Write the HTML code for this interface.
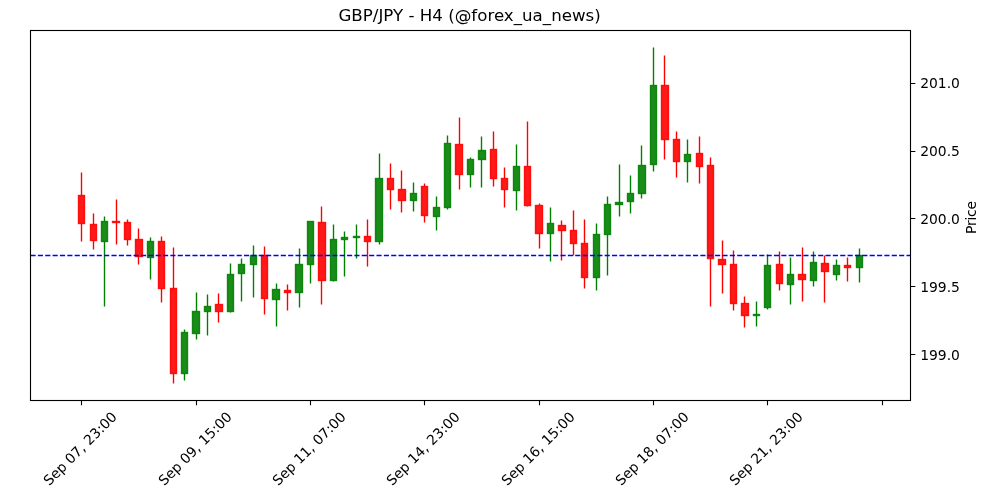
<!DOCTYPE html>
<html><head><meta charset="utf-8"><title>GBP/JPY - H4</title>
<style>
html,body{margin:0;padding:0;background:#fff;}
body{width:1000px;height:500px;overflow:hidden;}
svg{display:block;will-change:transform;}
text{font-family:"DejaVu Sans","Liberation Sans",sans-serif;fill:#000;}
.t10{font-size:13.889px;}
.t12{font-size:16.667px;}
.wr{stroke:#ff0000;stroke-width:1.389;fill:none;}
.wg{stroke:#008000;stroke-width:1.389;fill:none;}
.br{fill:#ff0000;fill-opacity:.9;stroke:#ff0000;stroke-opacity:.9;stroke-width:1.389;}
.bg{fill:#008000;fill-opacity:.9;stroke:#008000;stroke-opacity:.9;stroke-width:1.389;}
</style></head>
<body>
<svg width="1000" height="500" viewBox="0 0 1000 500">
<rect width="1000" height="500" fill="#fff"/>
<g id="candles">
<path class="wr" d="M81.5 172.5V195.5M81.5 223.5V241.5"/>
<rect class="br" x="78.5" y="195.5" width="6.0" height="28.0"/>
<path class="wr" d="M93.5 213.5V224.5M93.5 240.5V249.5"/>
<rect class="br" x="90.5" y="224.5" width="6.0" height="16.0"/>
<path class="wg" d="M104.5 216.5V221.5M104.5 241.5V306.5"/>
<rect class="bg" x="101.5" y="221.5" width="6.0" height="20.0"/>
<path class="wr" d="M116.5 199.5V221.5M116.5 222.5V244.5"/>
<rect class="br" x="112.5" y="221.5" width="7.0" height="1.0"/>
<path class="wr" d="M127.5 219.5V222.5M127.5 239.5V245.5"/>
<rect class="br" x="124.5" y="222.5" width="6.0" height="17.0"/>
<path class="wr" d="M138.5 228.5V239.5M138.5 256.5V264.5"/>
<rect class="br" x="135.5" y="239.5" width="7.0" height="17.0"/>
<path class="wg" d="M150.5 237.5V241.5M150.5 257.5V279.5"/>
<rect class="bg" x="147.5" y="241.5" width="6.0" height="16.0"/>
<path class="wr" d="M161.5 236.5V241.5M161.5 288.5V302.5"/>
<rect class="br" x="158.5" y="241.5" width="6.0" height="47.0"/>
<path class="wr" d="M173.5 247.5V288.5M173.5 373.5V383.5"/>
<rect class="br" x="170.5" y="288.5" width="6.0" height="85.0"/>
<path class="wg" d="M184.5 329.5V332.5M184.5 373.5V380.5"/>
<rect class="bg" x="181.5" y="332.5" width="6.0" height="41.0"/>
<path class="wg" d="M196.5 292.5V311.5M196.5 333.5V339.5"/>
<rect class="bg" x="192.5" y="311.5" width="7.0" height="22.0"/>
<path class="wg" d="M207.5 294.5V306.5M207.5 311.5V335.5"/>
<rect class="bg" x="204.5" y="306.5" width="6.0" height="5.0"/>
<path class="wr" d="M218.5 293.5V304.5M218.5 311.5V322.5"/>
<rect class="br" x="215.5" y="304.5" width="7.0" height="7.0"/>
<path class="wg" d="M230.5 263.5V274.5M230.5 311.5V312.5"/>
<rect class="bg" x="227.5" y="274.5" width="6.0" height="37.0"/>
<path class="wg" d="M241.5 258.5V264.5M241.5 273.5V301.5"/>
<rect class="bg" x="238.5" y="264.5" width="6.0" height="9.0"/>
<path class="wg" d="M253.5 245.5V255.5M253.5 264.5V297.5"/>
<rect class="bg" x="250.5" y="255.5" width="6.0" height="9.0"/>
<path class="wr" d="M264.5 246.5V255.5M264.5 298.5V314.5"/>
<rect class="br" x="261.5" y="255.5" width="6.0" height="43.0"/>
<path class="wg" d="M276.5 283.5V289.5M276.5 299.5V326.5"/>
<rect class="bg" x="272.5" y="289.5" width="7.0" height="10.0"/>
<path class="wr" d="M287.5 284.5V290.5M287.5 292.5V310.5"/>
<rect class="br" x="284.5" y="290.5" width="6.0" height="2.0"/>
<path class="wg" d="M299.5 248.5V264.5M299.5 292.5V307.5"/>
<rect class="bg" x="295.5" y="264.5" width="7.0" height="28.0"/>
<path class="wg" d="M310.5 264.5V283.5"/>
<rect class="bg" x="307.5" y="221.5" width="6.0" height="43.0"/>
<path class="wr" d="M321.5 206.5V222.5M321.5 280.5V304.5"/>
<rect class="br" x="318.5" y="222.5" width="7.0" height="58.0"/>
<path class="wg" d="M333.5 224.5V239.5M333.5 280.5V281.5"/>
<rect class="bg" x="330.5" y="239.5" width="6.0" height="41.0"/>
<path class="wg" d="M344.5 231.5V237.5M344.5 239.5V276.5"/>
<rect class="bg" x="341.5" y="237.5" width="6.0" height="2.0"/>
<path class="wg" d="M356.5 224.5V236.5M356.5 237.5V258.5"/>
<rect class="bg" x="353.5" y="236.5" width="6.0" height="1.0"/>
<path class="wr" d="M367.5 219.5V236.5M367.5 241.5V266.5"/>
<rect class="br" x="364.5" y="236.5" width="6.0" height="5.0"/>
<path class="wg" d="M379.5 153.5V178.5M379.5 241.5V244.5"/>
<rect class="bg" x="375.5" y="178.5" width="7.0" height="63.0"/>
<path class="wr" d="M390.5 163.5V178.5M390.5 189.5V209.5"/>
<rect class="br" x="387.5" y="178.5" width="6.0" height="11.0"/>
<path class="wr" d="M401.5 170.5V189.5M401.5 200.5V212.5"/>
<rect class="br" x="398.5" y="189.5" width="7.0" height="11.0"/>
<path class="wg" d="M413.5 182.5V193.5M413.5 200.5V211.5"/>
<rect class="bg" x="410.5" y="193.5" width="6.0" height="7.0"/>
<path class="wr" d="M424.5 183.5V186.5M424.5 215.5V222.5"/>
<rect class="br" x="421.5" y="186.5" width="6.0" height="29.0"/>
<path class="wg" d="M436.5 196.5V207.5M436.5 216.5V230.5"/>
<rect class="bg" x="433.5" y="207.5" width="6.0" height="9.0"/>
<path class="wg" d="M447.5 135.5V143.5M447.5 207.5V209.5"/>
<rect class="bg" x="444.5" y="143.5" width="6.0" height="64.0"/>
<path class="wr" d="M459.5 117.5V144.5M459.5 174.5V189.5"/>
<rect class="br" x="455.5" y="144.5" width="7.0" height="30.0"/>
<path class="wg" d="M470.5 157.5V159.5M470.5 174.5V187.5"/>
<rect class="bg" x="467.5" y="159.5" width="6.0" height="15.0"/>
<path class="wg" d="M481.5 136.5V150.5M481.5 159.5V187.5"/>
<rect class="bg" x="478.5" y="150.5" width="7.0" height="9.0"/>
<path class="wr" d="M493.5 131.5V149.5M493.5 178.5V186.5"/>
<rect class="br" x="490.5" y="149.5" width="6.0" height="29.0"/>
<path class="wr" d="M504.5 167.5V178.5M504.5 189.5V207.5"/>
<rect class="br" x="501.5" y="178.5" width="6.0" height="11.0"/>
<path class="wg" d="M516.5 144.5V166.5M516.5 190.5V210.5"/>
<rect class="bg" x="513.5" y="166.5" width="6.0" height="24.0"/>
<path class="wr" d="M527.5 121.5V166.5M527.5 205.5V206.5"/>
<rect class="br" x="524.5" y="166.5" width="6.0" height="39.0"/>
<path class="wr" d="M539.5 203.5V205.5M539.5 233.5V248.5"/>
<rect class="br" x="535.5" y="205.5" width="7.0" height="28.0"/>
<path class="wg" d="M550.5 207.5V223.5M550.5 233.5V261.5"/>
<rect class="bg" x="547.5" y="223.5" width="6.0" height="10.0"/>
<path class="wr" d="M561.5 220.5V225.5M561.5 230.5V260.5"/>
<rect class="br" x="558.5" y="225.5" width="7.0" height="5.0"/>
<path class="wr" d="M573.5 210.5V230.5M573.5 243.5V255.5"/>
<rect class="br" x="570.5" y="230.5" width="6.0" height="13.0"/>
<path class="wr" d="M584.5 219.5V243.5M584.5 277.5V288.5"/>
<rect class="br" x="581.5" y="243.5" width="6.0" height="34.0"/>
<path class="wg" d="M596.5 223.5V234.5M596.5 277.5V290.5"/>
<rect class="bg" x="593.5" y="234.5" width="6.0" height="43.0"/>
<path class="wg" d="M607.5 196.5V204.5M607.5 234.5V275.5"/>
<rect class="bg" x="604.5" y="204.5" width="6.0" height="30.0"/>
<path class="wg" d="M619.5 164.5V202.5M619.5 204.5V216.5"/>
<rect class="bg" x="615.5" y="202.5" width="7.0" height="2.0"/>
<path class="wg" d="M630.5 175.5V193.5M630.5 201.5V213.5"/>
<rect class="bg" x="627.5" y="193.5" width="6.0" height="8.0"/>
<path class="wg" d="M641.5 145.5V165.5M641.5 193.5V198.5"/>
<rect class="bg" x="638.5" y="165.5" width="7.0" height="28.0"/>
<path class="wg" d="M653.5 47.5V85.5M653.5 164.5V171.5"/>
<rect class="bg" x="650.5" y="85.5" width="6.0" height="79.0"/>
<path class="wr" d="M664.5 55.5V85.5M664.5 139.5V159.5"/>
<rect class="br" x="661.5" y="85.5" width="7.0" height="54.0"/>
<path class="wr" d="M676.5 131.5V139.5M676.5 161.5V177.5"/>
<rect class="br" x="673.5" y="139.5" width="6.0" height="22.0"/>
<path class="wg" d="M687.5 139.5V154.5M687.5 161.5V182.5"/>
<rect class="bg" x="684.5" y="154.5" width="6.0" height="7.0"/>
<path class="wr" d="M699.5 136.5V153.5M699.5 166.5V183.5"/>
<rect class="br" x="696.5" y="153.5" width="6.0" height="13.0"/>
<path class="wr" d="M710.5 157.5V165.5M710.5 258.5V306.5"/>
<rect class="br" x="707.5" y="165.5" width="6.0" height="93.0"/>
<path class="wr" d="M722.5 240.5V259.5M722.5 264.5V293.5"/>
<rect class="br" x="718.5" y="259.5" width="7.0" height="5.0"/>
<path class="wr" d="M733.5 250.5V264.5M733.5 303.5V310.5"/>
<rect class="br" x="730.5" y="264.5" width="6.0" height="39.0"/>
<path class="wr" d="M744.5 296.5V303.5M744.5 315.5V327.5"/>
<rect class="br" x="741.5" y="303.5" width="7.0" height="12.0"/>
<path class="wg" d="M756.5 301.5V314.5M756.5 315.5V326.5"/>
<rect class="bg" x="753.5" y="314.5" width="6.0" height="1.0"/>
<path class="wg" d="M767.5 254.5V265.5M767.5 307.5V309.5"/>
<rect class="bg" x="764.5" y="265.5" width="6.0" height="42.0"/>
<path class="wr" d="M779.5 251.5V264.5M779.5 283.5V290.5"/>
<rect class="br" x="776.5" y="264.5" width="6.0" height="19.0"/>
<path class="wg" d="M790.5 257.5V274.5M790.5 284.5V304.5"/>
<rect class="bg" x="787.5" y="274.5" width="6.0" height="10.0"/>
<path class="wr" d="M802.5 247.5V274.5M802.5 279.5V301.5"/>
<rect class="br" x="798.5" y="274.5" width="7.0" height="5.0"/>
<path class="wg" d="M813.5 251.5V262.5M813.5 280.5V286.5"/>
<rect class="bg" x="810.5" y="262.5" width="6.0" height="18.0"/>
<path class="wr" d="M824.5 255.5V263.5M824.5 271.5V302.5"/>
<rect class="br" x="821.5" y="263.5" width="7.0" height="8.0"/>
<path class="wg" d="M836.5 259.5V265.5M836.5 274.5V280.5"/>
<rect class="bg" x="833.5" y="265.5" width="6.0" height="9.0"/>
<path class="wr" d="M847.5 257.5V265.5M847.5 267.5V281.5"/>
<rect class="br" x="844.5" y="265.5" width="6.0" height="2.0"/>
<path class="wg" d="M859.5 248.5V255.5M859.5 267.5V282.5"/>
<rect class="bg" x="856.5" y="255.5" width="6.0" height="12.0"/>
</g>
<path d="M30.5 255.5H910.5" stroke="#0000ff" stroke-width="1.389" stroke-dasharray="5.139 2.222" fill="none"/>
<path d="M81.5 400.5v4.86M196.5 400.5v4.86M310.5 400.5v4.86M424.5 400.5v4.86M539.5 400.5v4.86M653.5 400.5v4.86M767.5 400.5v4.86M882.5 400.5v4.86M910.5 83.5h4.86M910.5 151.5h4.86M910.5 218.5h4.86M910.5 286.5h4.86M910.5 354.5h4.86" stroke="#000" stroke-width="1.111" fill="none"/>
<rect x="30.5" y="30.5" width="880.0" height="370.0" fill="none" stroke="#000" stroke-width="1.111"/>
<text x="469.6" y="21.1" text-anchor="middle" class="t12">GBP/JPY - H4 (@forex_ua_news)</text>
<text x="920.2" y="88.0" class="t10">201.0</text>
<text x="920.2" y="155.9" class="t10">200.5</text>
<text x="920.2" y="223.9" class="t10">200.0</text>
<text x="920.2" y="292.0" class="t10">199.5</text>
<text x="920.2" y="360.0" class="t10">199.0</text>
<text class="t10" text-anchor="middle" transform="translate(83.50 452.00) rotate(-45)">Sep 07, 23:00</text>
<text class="t10" text-anchor="middle" transform="translate(198.50 452.00) rotate(-45)">Sep 09, 15:00</text>
<text class="t10" text-anchor="middle" transform="translate(312.50 452.00) rotate(-45)">Sep 11, 07:00</text>
<text class="t10" text-anchor="middle" transform="translate(426.50 452.00) rotate(-45)">Sep 14, 23:00</text>
<text class="t10" text-anchor="middle" transform="translate(541.50 452.00) rotate(-45)">Sep 16, 15:00</text>
<text class="t10" text-anchor="middle" transform="translate(655.50 452.00) rotate(-45)">Sep 18, 07:00</text>
<text class="t10" text-anchor="middle" transform="translate(769.50 452.00) rotate(-45)">Sep 21, 23:00</text>
<text class="t10" text-anchor="middle" letter-spacing="-0.2" transform="translate(976 217.6) rotate(-90)">Price</text>
</svg>
</body></html>
